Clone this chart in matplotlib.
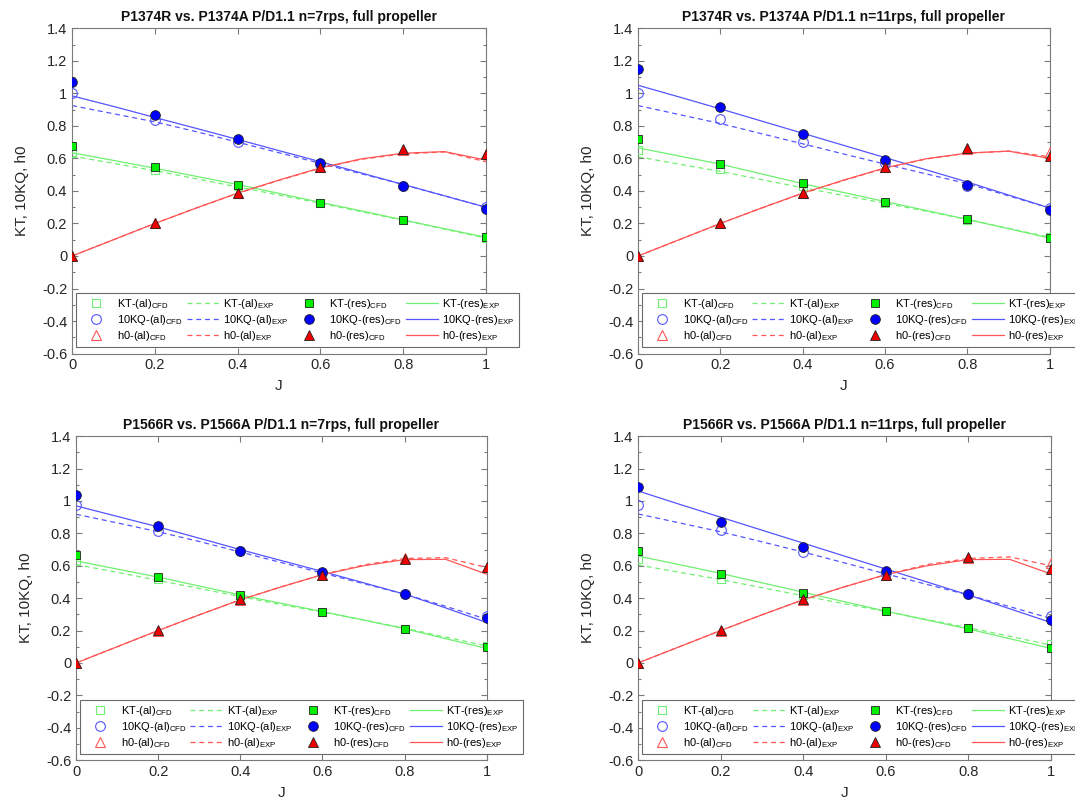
import matplotlib
matplotlib.use('Agg')
import matplotlib.pyplot as plt
from matplotlib.ticker import MultipleLocator

plt.rcParams['font.family'] = ['Liberation Sans', 'DejaVu Sans']
plt.rcParams['mathtext.fontset'] = 'custom'
plt.rcParams['mathtext.rm'] = 'Liberation Sans'
plt.rcParams['mathtext.it'] = 'Liberation Sans:italic'

# advance ratio for CFD points and EXP curves
J_cfd = [0, 0.2, 0.4, 0.6, 0.8, 1.0]
J_exp = [0, 0.1, 0.2, 0.3, 0.4, 0.5, 0.6, 0.7, 0.8, 0.9, 1.0]

titles = ['P1374R vs. P1374A P/D1.1 n=7rps, full propeller',
          'P1374R vs. P1374A P/D1.1 n=11rps, full propeller',
          'P1566R vs. P1566A P/D1.1 n=7rps, full propeller',
          'P1566R vs. P1566A P/D1.1 n=11rps, full propeller']

# P1374 n=7
a_kt_al_cfd = [0.634, 0.53, 0.43, 0.325, 0.22, 0.11]
a_kt_res_cfd = [0.677, 0.545, 0.435, 0.325, 0.22, 0.115]
a_kq_al_cfd = [1.0, 0.835, 0.70, 0.565, 0.43, 0.30]
a_kq_res_cfd = [1.07, 0.87, 0.72, 0.575, 0.432, 0.29]
a_h0_al_cfd = [0, 0.2, 0.39, 0.545, 0.65, 0.625]
a_h0_res_cfd = [0, 0.205, 0.39, 0.55, 0.655, 0.625]
a_kt_al_exp = [0.615, 0.57, 0.525, 0.475, 0.425, 0.375, 0.325, 0.272, 0.22, 0.165, 0.11]
a_kt_res_exp = [0.635, 0.588, 0.54, 0.49, 0.44, 0.385, 0.33, 0.277, 0.222, 0.168, 0.115]
a_kq_al_exp = [0.925, 0.875, 0.825, 0.765, 0.70, 0.635, 0.57, 0.505, 0.44, 0.37, 0.30]
a_kq_res_exp = [0.985, 0.92, 0.852, 0.785, 0.717, 0.648, 0.58, 0.51, 0.44, 0.37, 0.30]
a_h0_al_exp = [0, 0.1, 0.2, 0.295, 0.385, 0.465, 0.54, 0.595, 0.628, 0.64, 0.58]
a_h0_res_exp = [0, 0.1, 0.2, 0.295, 0.387, 0.467, 0.542, 0.598, 0.632, 0.642, 0.59]

# P1374 n=11
b_kt_al_cfd = [0.65, 0.535, 0.43, 0.325, 0.22, 0.115]
b_kt_res_cfd = [0.72, 0.565, 0.45, 0.335, 0.225, 0.11]
b_kq_al_cfd = [1.0, 0.84, 0.70, 0.57, 0.43, 0.295]
b_kq_res_cfd = [1.15, 0.915, 0.75, 0.59, 0.435, 0.28]
b_h0_al_cfd = [0, 0.2, 0.39, 0.55, 0.66, 0.64]
b_h0_res_cfd = [0, 0.205, 0.39, 0.545, 0.665, 0.615]
b_kt_al_exp = [0.61, 0.565, 0.52, 0.47, 0.42, 0.372, 0.325, 0.275, 0.225, 0.17, 0.115]
b_kt_res_exp = [0.665, 0.615, 0.565, 0.505, 0.445, 0.39, 0.335, 0.28, 0.225, 0.168, 0.11]
b_kq_al_exp = [0.925, 0.87, 0.815, 0.752, 0.69, 0.627, 0.565, 0.505, 0.445, 0.37, 0.295]
b_kq_res_exp = [1.05, 0.978, 0.905, 0.83, 0.755, 0.68, 0.605, 0.53, 0.455, 0.375, 0.295]
b_h0_al_exp = [0, 0.1, 0.2, 0.295, 0.385, 0.465, 0.54, 0.597, 0.632, 0.645, 0.61]
b_h0_res_exp = [0, 0.1, 0.2, 0.295, 0.387, 0.467, 0.542, 0.598, 0.633, 0.645, 0.60]

# P1566 n=7
c_kt_al_cfd = [0.63, 0.52, 0.415, 0.315, 0.212, 0.105]
c_kt_res_cfd = [0.665, 0.533, 0.42, 0.317, 0.212, 0.10]
c_kq_al_cfd = [0.977, 0.817, 0.69, 0.555, 0.425, 0.292]
c_kq_res_cfd = [1.037, 0.848, 0.693, 0.562, 0.426, 0.28]
c_h0_al_cfd = [0, 0.2, 0.39, 0.54, 0.645, 0.595]
c_h0_res_cfd = [0, 0.204, 0.393, 0.541, 0.644, 0.59]
c_kt_al_exp = [0.607, 0.56, 0.51, 0.46, 0.41, 0.36, 0.315, 0.265, 0.215, 0.16, 0.105]
c_kt_res_exp = [0.63, 0.58, 0.53, 0.475, 0.42, 0.368, 0.317, 0.265, 0.212, 0.15, 0.09]
c_kq_al_exp = [0.918, 0.865, 0.81, 0.75, 0.685, 0.62, 0.555, 0.49, 0.425, 0.35, 0.27]
c_kq_res_exp = [0.97, 0.905, 0.84, 0.77, 0.70, 0.632, 0.565, 0.495, 0.425, 0.34, 0.25]
c_h0_al_exp = [0, 0.1, 0.2, 0.297, 0.39, 0.47, 0.545, 0.605, 0.645, 0.65, 0.59]
c_h0_res_exp = [0, 0.1, 0.2, 0.297, 0.39, 0.47, 0.545, 0.6, 0.638, 0.64, 0.548]

# P1566 n=11
d_kt_al_cfd = [0.642, 0.52, 0.42, 0.32, 0.215, 0.117]
d_kt_res_cfd = [0.693, 0.55, 0.434, 0.32, 0.216, 0.093]
d_kq_al_cfd = [0.977, 0.82, 0.685, 0.555, 0.425, 0.293]
d_kq_res_cfd = [1.084, 0.872, 0.715, 0.567, 0.425, 0.263]
d_h0_al_cfd = [0, 0.2, 0.39, 0.545, 0.65, 0.615]
d_h0_res_cfd = [0, 0.205, 0.395, 0.545, 0.652, 0.577]
d_kt_al_exp = [0.605, 0.56, 0.515, 0.465, 0.415, 0.365, 0.318, 0.268, 0.218, 0.165, 0.11]
d_kt_res_exp = [0.66, 0.607, 0.553, 0.495, 0.437, 0.378, 0.32, 0.265, 0.21, 0.15, 0.09]
d_kq_al_exp = [0.92, 0.865, 0.81, 0.748, 0.685, 0.618, 0.55, 0.485, 0.42, 0.348, 0.275]
d_kq_res_exp = [1.062, 0.98, 0.9, 0.82, 0.74, 0.66, 0.58, 0.5, 0.42, 0.335, 0.25]
d_h0_al_exp = [0, 0.1, 0.2, 0.297, 0.39, 0.47, 0.545, 0.607, 0.645, 0.655, 0.60]
d_h0_res_exp = [0, 0.1, 0.2, 0.297, 0.39, 0.47, 0.545, 0.6, 0.638, 0.64, 0.55]

panels = [
    (a_kt_al_cfd, a_kq_al_cfd, a_h0_al_cfd, a_kt_al_exp, a_kq_al_exp, a_h0_al_exp,
     a_kt_res_cfd, a_kq_res_cfd, a_h0_res_cfd, a_kt_res_exp, a_kq_res_exp, a_h0_res_exp),
    (b_kt_al_cfd, b_kq_al_cfd, b_h0_al_cfd, b_kt_al_exp, b_kq_al_exp, b_h0_al_exp,
     b_kt_res_cfd, b_kq_res_cfd, b_h0_res_cfd, b_kt_res_exp, b_kq_res_exp, b_h0_res_exp),
    (c_kt_al_cfd, c_kq_al_cfd, c_h0_al_cfd, c_kt_al_exp, c_kq_al_exp, c_h0_al_exp,
     c_kt_res_cfd, c_kq_res_cfd, c_h0_res_cfd, c_kt_res_exp, c_kq_res_exp, c_h0_res_exp),
    (d_kt_al_cfd, d_kq_al_cfd, d_h0_al_cfd, d_kt_al_exp, d_kq_al_exp, d_h0_al_exp,
     d_kt_res_cfd, d_kq_res_cfd, d_h0_res_cfd, d_kt_res_exp, d_kq_res_exp, d_h0_res_exp),
]

# axes rectangles in figure fraction
rects = [[0.067, 0.5575, 0.385, 0.407],
         [0.5935, 0.5575, 0.383, 0.407],
         [0.0707, 0.0486, 0.382, 0.4055],
         [0.5935, 0.0486, 0.384, 0.4055]]

green, blue, red = '#00ee00', '#0000ff', '#ee0000'
green_l, blue_l, red_l = '#70f070', '#5555ff', '#ff5555'
axis_col = '#7a7a7a'

fig = plt.figure(figsize=(10.75, 7.99), dpi=100)

for k, data in enumerate(panels):
    (kt_al_c, kq_al_c, h0_al_c, kt_al_e, kq_al_e, h0_al_e,
     kt_res_c, kq_res_c, h0_res_c, kt_res_e, kq_res_e, h0_res_e) = data
    ax = fig.add_axes(rects[k])

    ax.plot(J_cfd, kt_al_c, 's', ms=5.5, mfc='none', mec=green_l, mew=0.8, zorder=4,
            label=r'KT-(al)$_{\mathrm{CFD}}$')
    ax.plot(J_cfd, kq_al_c, 'o', ms=7, mfc='none', mec=blue_l, mew=0.8, zorder=4,
            label=r'10KQ-(al)$_{\mathrm{CFD}}$')
    ax.plot(J_cfd, h0_al_c, '^', ms=7.5, mfc='none', mec=red_l, mew=0.8, zorder=4,
            label=r'h0-(al)$_{\mathrm{CFD}}$')

    ax.plot(J_exp, kt_al_e, '--', color=green_l, lw=0.9, dashes=(4, 3), zorder=2,
            label=r'KT-(al)$_{\mathrm{EXP}}$')
    ax.plot(J_exp, kq_al_e, '--', color=blue_l, lw=0.9, dashes=(4, 3), zorder=2,
            label=r'10KQ-(al)$_{\mathrm{EXP}}$')
    ax.plot(J_exp, h0_al_e, '--', color=red_l, lw=0.9, dashes=(4, 3), zorder=2,
            label=r'h0-(al)$_{\mathrm{EXP}}$')

    ax.plot(J_cfd, kt_res_c, 's', ms=5.5, mfc=green, mec='#222222', mew=0.6, zorder=5,
            label=r'KT-(res)$_{\mathrm{CFD}}$')
    ax.plot(J_cfd, kq_res_c, 'o', ms=7, mfc=blue, mec='#222222', mew=0.6, zorder=5,
            label=r'10KQ-(res)$_{\mathrm{CFD}}$')
    ax.plot(J_cfd, h0_res_c, '^', ms=7.5, mfc=red, mec='#222222', mew=0.6, zorder=5,
            label=r'h0-(res)$_{\mathrm{CFD}}$')

    ax.plot(J_exp, kt_res_e, '-', color=green_l, lw=0.9, zorder=3,
            label=r'KT-(res)$_{\mathrm{EXP}}$')
    ax.plot(J_exp, kq_res_e, '-', color=blue_l, lw=0.9, zorder=3,
            label=r'10KQ-(res)$_{\mathrm{EXP}}$')
    ax.plot(J_exp, h0_res_e, '-', color=red_l, lw=0.9, zorder=3,
            label=r'h0-(res)$_{\mathrm{EXP}}$')

    ax.set_xlim(0, 1)
    ax.set_ylim(-0.6, 1.4)
    ax.set_xticks([0, 0.2, 0.4, 0.6, 0.8, 1])
    ax.set_xticklabels(['0', '0.2', '0.4', '0.6', '0.8', '1'])
    ax.set_yticks([-0.6, -0.4, -0.2, 0, 0.2, 0.4, 0.6, 0.8, 1, 1.2, 1.4])
    ax.set_yticklabels(['-0.6', '-0.4', '-0.2', '0', '0.2', '0.4', '0.6', '0.8', '1', '1.2', '1.4'])
    ax.yaxis.set_minor_locator(MultipleLocator(0.1))
    ax.tick_params(which='both', direction='in', top=True, right=True,
                   color=axis_col, labelcolor='#262626', labelsize=10.5, width=0.8)
    ax.tick_params(which='major', length=4)
    ax.tick_params(which='minor', length=2.5)
    for sp in ax.spines.values():
        sp.set_color(axis_col)
        sp.set_linewidth(0.8)

    ax.set_title(titles[k], fontsize=10, fontweight='bold', color='#111111', pad=5)
    ax.set_xlabel('J', fontsize=11, color='#262626', labelpad=5)
    ax.set_ylabel('KT, 10KQ, h0', fontsize=11, color='#262626', labelpad=9)

    leg = ax.legend(ncol=4, loc='lower left', bbox_to_anchor=(0.01, 0.02), borderaxespad=0,
                    fontsize=8, handlelength=2.9, handletextpad=0.4, columnspacing=0.35,
                    labelspacing=0.18, borderpad=0.35, fancybox=False, framealpha=1,
                    edgecolor='#6a6a6a')
    leg.get_frame().set_linewidth(0.8)
    leg.set_zorder(10)

fig.savefig('out.png', dpi=100)
